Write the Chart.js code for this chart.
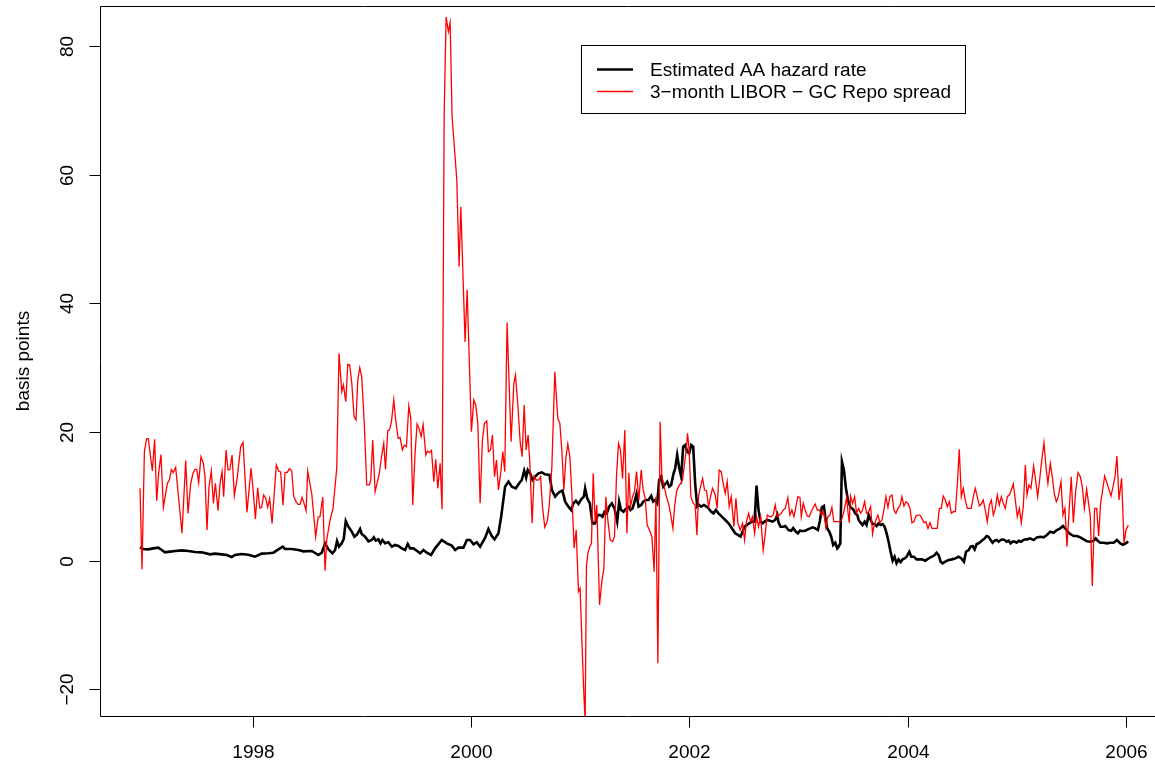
<!DOCTYPE html>
<html><head><meta charset="utf-8">
<script src="https://cdn.jsdelivr.net/npm/chart.js@4.4.1/dist/chart.umd.min.js"></script>
<style>html,body{margin:0;padding:0;background:#fff}canvas{display:block}</style>
</head><body>
<canvas id="c" width="1155" height="765"></canvas>
<script>
// ---- data (decimal years, basis points) ----
const redDates = [
1996.961,1996.979,1997.001,1997.022,1997.037,1997.074,1997.095,1997.114,1997.132,1997.153,1997.175,1997.212,1997.230,1997.248,1997.264,1997.288,1997.346,1997.380,1997.401,1997.426,1997.447,1997.465,1997.481,1997.499,1997.520,1997.542,1997.557,1997.575,1997.594,1997.615,1997.634,1997.652,1997.676,1997.695,1997.713,1997.728,1997.750,1997.768,1997.786,1997.805,1997.826,1997.854,1997.884,1997.906,1997.942,1997.979,
1998.001,1998.019,1998.040,1998.059,1998.077,1998.095,1998.114,1998.132,1998.150,1998.172,1998.211,1998.233,1998.251,1998.272,1998.291,1998.312,1998.331,1998.352,1998.371,1998.392,1998.410,1998.429,1998.447,1998.465,1998.484,1998.499,1998.536,1998.572,1998.594,1998.612,1998.637,1998.658,1998.673,1998.704,1998.731,1998.765,1998.786,1998.811,1998.826,1998.848,1998.866,1998.884,1998.903,1998.924,1998.942,1998.958,1998.976,1998.994,
1999.019,1999.040,1999.065,1999.077,1999.095,1999.117,1999.153,1999.178,1999.196,1999.212,1999.233,1999.248,1999.267,1999.288,1999.306,1999.328,1999.346,1999.367,1999.386,1999.404,1999.426,1999.444,1999.462,1999.484,1999.502,1999.520,1999.539,1999.557,1999.582,1999.597,1999.615,1999.634,1999.655,1999.673,1999.692,1999.713,1999.731,1999.750,1999.768,1999.789,1999.805,1999.823,1999.866,1999.887,1999.903,1999.942,1999.961,
2000.000,2000.022,2000.040,2000.059,2000.080,2000.101,2000.120,2000.141,2000.156,2000.175,2000.193,2000.212,2000.230,2000.248,2000.270,2000.288,2000.306,2000.327,2000.364,2000.389,2000.404,2000.426,2000.447,2000.465,2000.484,2000.502,2000.520,2000.536,2000.557,2000.575,2000.594,2000.615,2000.634,2000.652,2000.673,2000.695,2000.713,2000.738,2000.765,2000.792,2000.811,2000.829,2000.848,2000.866,2000.884,2000.903,2000.921,2000.942,2000.961,2000.982,2000.997,
2001.013,2001.031,2001.043,2001.055,2001.068,2001.086,2001.101,2001.117,2001.135,2001.150,2001.175,2001.196,2001.215,2001.233,2001.251,2001.273,2001.294,2001.312,2001.331,2001.349,2001.367,2001.386,2001.407,2001.426,2001.444,2001.459,2001.478,2001.496,2001.514,2001.536,2001.557,2001.575,2001.594,2001.612,2001.633,2001.655,2001.676,2001.692,2001.710,2001.731,2001.747,2001.768,2001.789,2001.808,2001.826,2001.848,2001.863,2001.881,2001.899,2001.918,2001.936,2001.955,2001.973,2001.982,2001.997,
2002.013,2002.034,2002.052,2002.068,2002.083,2002.101,2002.120,2002.138,2002.156,2002.175,2002.193,2002.211,2002.236,2002.254,2002.272,2002.291,2002.309,2002.328,2002.346,2002.364,2002.383,2002.407,2002.426,2002.444,2002.465,2002.487,2002.505,2002.523,2002.542,2002.560,2002.578,2002.597,2002.615,2002.633,2002.652,2002.676,2002.695,2002.713,2002.731,2002.750,2002.768,2002.786,2002.805,2002.823,2002.842,2002.860,2002.878,2002.902,2002.921,2002.939,2002.958,2002.976,2002.994,
2003.013,2003.025,2003.043,2003.061,2003.080,2003.098,2003.123,2003.153,2003.172,2003.190,2003.214,2003.230,2003.251,2003.269,2003.288,2003.306,2003.324,2003.367,2003.386,2003.404,2003.422,2003.441,2003.453,2003.465,2003.477,2003.496,2003.514,2003.532,2003.551,2003.569,2003.587,2003.606,2003.624,2003.643,2003.661,2003.679,2003.691,2003.710,2003.728,2003.746,2003.765,2003.783,2003.801,2003.820,2003.838,2003.857,2003.875,2003.893,2003.912,2003.930,2003.948,2003.967,2003.985,
2004.003,2004.022,2004.040,2004.058,2004.077,2004.095,2004.113,2004.132,2004.150,2004.168,2004.187,2004.205,2004.224,2004.254,2004.272,2004.291,2004.309,2004.327,2004.346,2004.364,2004.383,2004.401,2004.419,2004.438,2004.456,2004.474,2004.493,2004.511,2004.529,2004.548,2004.566,2004.584,2004.603,2004.621,2004.639,2004.658,2004.676,2004.694,2004.713,2004.731,2004.750,2004.768,2004.786,2004.805,2004.823,2004.841,2004.860,2004.878,2004.896,2004.915,2004.933,2004.951,2004.970,2004.988,
2005.006,2005.025,2005.043,2005.061,2005.080,2005.095,2005.113,2005.131,2005.156,2005.174,2005.193,2005.211,2005.229,2005.251,2005.269,2005.287,2005.309,2005.327,2005.345,2005.364,2005.382,2005.407,2005.425,2005.443,2005.462,2005.480,2005.501,2005.520,2005.541,2005.563,2005.584,2005.602,2005.621,2005.642,2005.660,2005.676,2005.694,2005.715,2005.734,2005.752,2005.770,2005.789,2005.807,2005.829,2005.847,2005.865,2005.884,2005.902,2005.920,2005.939,2005.963,2005.985,2006.003,2006.024
];
const redValues = [
11.25,-1.34,16.95,18.97,18.97,13.94,18.86,9.33,13.68,16.48,8.30,12.03,12.54,14.15,13.68,14.51,4.26,15.55,7.36,12.03,13.58,14.20,14.20,12.13,16.17,15.13,13.06,4.77,11.51,13.94,8.92,12.03,7.78,12.03,13.84,9.95,17.21,14.10,14.20,16.43,10.11,13.06,17.72,18.40,7.52,14.41,
10.47,6.48,11.35,8.19,8.30,10.21,9.70,8.30,9.64,5.81,14.87,13.89,13.79,8.61,13.74,13.74,14.31,13.94,9.95,9.18,8.76,8.76,9.85,8.92,7.78,13.89,10.37,3.74,6.74,6.85,9.90,-1.55,3.22,6.33,8.14,14.36,32.23,26.27,27.31,24.72,30.52,30.41,27.57,22.39,21.87,28.08,30.00,28.60,
20.83,11.77,11.77,12.54,18.76,10.73,13.32,16.43,18.24,14.20,20.21,20.31,21.61,24.98,21.87,19.02,19.17,17.21,17.98,17.72,24.04,22.13,8.66,16.95,21.25,20.57,19.28,21.14,16.43,17.05,16.79,17.15,12.29,15.76,11.25,15.13,7.99,69.0,84.5,82.2,83.6,69.0,59.2,45.7,55.0,34.0,42.1,
20.06,24.98,24.20,21.35,8.92,18.76,21.35,21.71,16.95,17.21,19.54,13.06,15.65,10.99,13.84,16.95,13.84,37.0,18.50,27.57,28.86,24.20,18.50,16.17,24.20,17.21,19.54,15.13,5.81,13.17,12.54,12.54,13.06,8.40,5.19,6.07,8.40,14.62,29.38,22.13,21.35,17.21,10.99,15.91,18.14,16.17,10.47,1.93,4.77,-4.81,-4.29,
-12.32,-20.61,-25.0,-0.92,1.15,2.18,2.70,13.58,6.07,8.66,-6.88,-3.26,-1.18,9.95,6.33,3.22,2.96,3.74,13.32,18.24,17.21,12.80,20.31,4.26,13.68,8.40,9.95,10.73,13.84,9.44,14.10,10.99,9.70,5.55,4.77,3.74,-1.70,9.95,-15.95,21.61,13.06,11.51,9.95,8.92,7.36,5.03,8.40,10.73,11.51,12.03,12.54,15.13,17.72,19.80,17.21,
9.95,8.92,8.66,4.00,9.95,11.51,12.80,10.99,10.89,8.40,9.95,11.25,10.21,8.14,14.10,13.84,12.03,10.47,12.29,8.40,9.95,5.29,9.70,5.81,4.77,5.81,3.22,6.07,7.36,6.07,6.85,4.26,6.85,5.29,6.85,1.67,4.26,7.11,6.85,6.85,7.11,8.66,6.85,7.11,7.36,7.88,8.13,9.79,7.10,7.88,6.84,8.39,9.95,
9.84,6.84,8.91,7.88,6.94,6.84,7.88,8.81,7.88,7.88,7.10,7.62,5.13,6.84,7.10,8.29,6.06,6.06,6.06,6.84,8.13,9.84,7.62,5.91,10.05,8.91,9.95,7.46,8.13,7.36,7.88,9.17,7.36,7.62,8.39,4.15,5.29,6.32,7.10,5.91,6.32,7.88,9.95,8.29,9.95,10.21,7.88,7.36,8.13,8.50,9.95,8.50,9.17,
8.91,8.13,5.91,6.06,6.94,7.10,7.10,6.58,5.91,6.06,5.03,5.91,5.03,5.03,5.03,8.13,8.13,10.05,9.43,8.39,9.17,7.36,7.62,7.62,11.76,17.30,9.95,11.24,9.43,8.13,8.13,8.13,9.95,11.24,9.95,8.50,8.81,9.43,7.88,6.06,8.65,9.43,7.10,8.13,10.21,8.65,9.95,8.91,8.13,9.95,10.21,10.98,11.92,9.43,
6.84,8.13,5.91,8.39,14.87,10.21,11.76,11.24,14.71,12.54,9.95,12.54,15.39,18.34,14.61,12.02,15.13,13.06,10.47,9.17,9.95,12.28,7.10,8.13,2.18,7.36,13.06,5.91,10.72,13.68,13.06,11.50,8.13,11.09,8.91,6.84,-3.93,8.13,8.13,3.84,8.91,10.98,13.16,12.02,11.09,10.05,11.50,13.06,16.27,9.43,12.80,2.70,4.77,5.55
];
const blackDates = [
1996.961,1996.991,1997.037,1997.083,1997.129,1997.160,1997.190,1997.236,1997.282,1997.343,1997.404,1997.465,1997.527,1997.603,1997.649,1997.710,1997.756,1997.802,1997.832,1997.894,1997.955,
1998.016,1998.077,1998.138,1998.184,1998.230,1998.270,1998.291,1998.352,1998.413,1998.459,1998.536,1998.597,1998.628,1998.658,1998.689,1998.725,1998.750,1998.768,1998.786,1998.811,1998.829,1998.848,1998.872,1998.903,1998.927,1998.952,1998.979,1998.994,
1999.025,1999.056,1999.086,1999.105,1999.123,1999.147,1999.166,1999.184,1999.208,1999.239,1999.270,1999.300,1999.331,1999.361,1999.392,1999.416,1999.438,1999.468,1999.499,1999.530,1999.560,1999.591,1999.630,1999.667,1999.728,1999.774,1999.820,1999.851,1999.881,1999.927,1999.958,1999.988,
2000.019,2000.049,2000.080,2000.126,2000.156,2000.187,2000.212,2000.248,2000.273,2000.309,2000.340,2000.371,2000.407,2000.438,2000.462,2000.484,2000.502,2000.517,2000.539,2000.560,2000.585,2000.615,2000.646,2000.676,2000.716,2000.738,2000.768,2000.792,2000.814,2000.835,2000.860,2000.890,2000.915,2000.936,2000.958,2000.982,
2001.007,2001.031,2001.043,2001.062,2001.086,2001.110,2001.135,2001.159,2001.181,2001.202,2001.221,2001.242,2001.263,2001.288,2001.312,2001.337,2001.355,2001.373,2001.395,2001.416,2001.441,2001.459,2001.478,2001.496,2001.514,2001.533,2001.557,2001.575,2001.600,2001.624,2001.649,2001.667,2001.685,2001.704,2001.722,2001.740,2001.759,2001.777,2001.796,2001.814,2001.832,2001.854,2001.869,2001.887,2001.906,2001.924,2001.942,2001.961,2001.979,2001.997,
2002.016,2002.034,2002.052,2002.071,2002.089,2002.107,2002.132,2002.156,2002.175,2002.199,2002.221,2002.242,2002.266,2002.297,2002.328,2002.358,2002.389,2002.419,2002.444,2002.468,2002.487,2002.505,2002.526,2002.548,2002.572,2002.597,2002.615,2002.633,2002.652,2002.670,2002.688,2002.713,2002.737,2002.762,2002.786,2002.805,2002.817,2002.835,2002.860,2002.878,2002.909,2002.933,2002.951,2002.970,2002.994,
2003.013,2003.037,2003.061,2003.086,2003.107,2003.129,2003.153,2003.178,2003.196,2003.214,2003.233,2003.245,2003.263,2003.282,2003.300,2003.318,2003.337,2003.355,2003.367,2003.383,2003.398,2003.416,2003.435,2003.453,2003.477,2003.502,2003.520,2003.539,2003.551,2003.569,2003.587,2003.606,2003.624,2003.643,2003.661,2003.679,2003.698,2003.716,2003.734,2003.753,2003.771,2003.789,2003.808,2003.826,2003.844,2003.863,2003.881,2003.899,2003.918,2003.936,2003.954,2003.973,2003.991,
2004.016,2004.034,2004.058,2004.083,2004.107,2004.132,2004.162,2004.193,2004.224,2004.248,2004.266,2004.285,2004.303,2004.321,2004.346,2004.376,2004.407,2004.438,2004.468,2004.493,2004.517,2004.536,2004.560,2004.578,2004.597,2004.615,2004.633,2004.652,2004.670,2004.688,2004.707,2004.725,2004.743,2004.762,2004.780,2004.798,2004.817,2004.835,2004.854,2004.872,2004.890,2004.909,2004.927,2004.945,2004.964,2004.982,
2005.000,2005.019,2005.043,2005.061,2005.080,2005.095,2005.125,2005.156,2005.186,2005.217,2005.248,2005.278,2005.309,2005.339,2005.370,2005.400,2005.425,2005.446,2005.468,2005.492,2005.523,2005.553,2005.584,2005.615,2005.645,2005.676,2005.706,2005.725,2005.743,2005.767,2005.798,2005.829,2005.859,2005.890,2005.920,2005.951,2005.975,2006.000,2006.024
];
const blackValues = [
2.08,1.82,1.77,1.92,2.03,1.67,1.30,1.41,1.51,1.61,1.51,1.36,1.30,0.99,1.10,0.99,0.89,0.58,0.89,1.04,0.94,
0.63,1.10,1.15,1.25,1.77,2.18,1.82,1.82,1.67,1.46,1.51,0.89,1.25,2.70,1.77,1.15,1.67,3.06,2.18,2.70,3.38,6.17,5.29,4.52,3.74,4.10,4.93,4.15,
3.74,3.01,3.22,3.63,3.12,3.32,2.70,3.22,2.70,2.86,2.18,2.44,2.29,1.92,1.67,2.60,1.92,1.92,1.56,1.15,1.67,1.25,0.89,1.92,3.22,2.70,2.34,1.67,2.03,2.03,3.22,3.22,
2.55,2.86,2.18,3.58,4.93,3.84,3.32,4.26,6.85,11.51,12.29,11.51,11.25,12.03,12.54,13.99,12.91,14.10,13.58,12.54,13.06,13.58,13.74,13.42,13.32,10.99,9.95,10.47,10.73,10.89,9.18,8.40,7.88,8.92,9.33,8.81,
9.54,9.95,11.25,9.70,8.92,5.81,5.81,7.11,7.11,6.85,7.62,7.36,8.40,8.92,8.14,6.07,9.18,7.88,7.62,8.04,8.40,7.88,8.14,9.18,10.37,8.40,8.66,9.18,9.44,9.44,10.06,9.18,9.44,8.92,12.54,13.06,11.51,11.92,12.29,11.51,11.77,13.58,14.36,16.43,14.36,13.06,17.72,17.98,16.95,16.69,
17.98,17.72,12.03,8.40,8.66,8.40,8.66,8.40,8.14,7.62,7.36,7.88,7.36,6.85,6.33,5.81,5.03,4.26,4.00,3.74,4.52,5.29,5.55,5.81,6.07,6.07,11.66,7.88,6.07,5.81,6.07,6.33,6.22,6.07,6.33,7.11,5.91,5.29,5.29,5.39,4.77,4.66,5.08,4.61,4.25,
4.66,4.61,4.66,4.87,5.03,5.18,5.03,4.77,6.22,8.29,8.50,6.84,5.03,4.51,3.73,2.44,2.80,1.92,2.18,2.70,15.39,14.09,11.24,9.43,8.29,7.98,7.36,7.10,6.32,5.91,5.55,6.06,5.55,7.10,6.32,5.70,5.70,5.39,5.80,5.55,5.70,5.29,4.25,2.96,1.40,0.00,0.62,-0.41,0.21,-0.21,0.21,0.36,0.62,
1.40,0.62,0.62,0.21,0.21,0.21,0.00,0.36,0.62,0.88,1.25,0.88,-0.15,-0.41,-0.15,0.10,0.21,0.36,0.62,0.36,-0.15,1.40,1.66,2.18,2.28,1.76,2.59,2.70,2.96,3.21,3.47,3.84,3.73,3.21,2.80,3.11,3.21,2.96,3.21,3.32,3.21,2.96,3.11,2.70,2.96,2.96,
2.80,3.11,2.96,3.21,3.32,3.32,3.47,3.21,3.63,3.73,3.63,3.99,4.51,4.35,4.77,5.03,5.39,5.03,4.51,4.15,3.84,3.84,3.63,3.32,3.01,2.96,3.11,3.47,3.11,2.80,2.80,2.70,2.80,2.80,3.21,2.70,2.49,2.70,2.96
];
const xTicks = [1998, 2000, 2002, 2004, 2006];
const yTicks = [-20, 0, 20, 40, 60, 80];
const seriesLabels = ['Estimated AA hazard rate', '3\u2212month LIBOR \u2212 GC Repo spread'];
const yTitle = 'basis points';

// ---- chart ----
const FONT = '19px "Liberation Sans", Arial, Helvetica, sans-serif';
const toPts = (xs, ys) => xs.map((x, i) => ({x: x, y: ys[i]}));

const deco = {
  id: 'deco',
  afterDraw(chart) {
    const {ctx, chartArea: a, scales: {x, y}} = chart;
    ctx.save();
    ctx.strokeStyle = '#000'; ctx.fillStyle = '#000'; ctx.lineWidth = 1;
    const L = Math.round(a.left) + 0.5, T = Math.round(a.top) + 0.5, B = Math.round(a.bottom) + 0.5;
    // box: left, top, bottom (right edge lies beyond the canvas)
    ctx.beginPath();
    ctx.moveTo(a.right + 2, T); ctx.lineTo(L, T); ctx.lineTo(L, B); ctx.lineTo(a.right + 2, B);
    ctx.stroke();
    ctx.font = FONT;
    // x ticks + labels
    ctx.textAlign = 'center'; ctx.textBaseline = 'alphabetic';
    xTicks.forEach(v => {
      const px = Math.round(x.getPixelForValue(v)) + 0.5;
      ctx.beginPath(); ctx.moveTo(px, B); ctx.lineTo(px, B + 11); ctx.stroke();
      ctx.fillText(String(v), px, 758);
    });
    // y ticks + rotated labels
    yTicks.forEach(v => {
      const py = Math.round(y.getPixelForValue(v)) + 0.5;
      ctx.beginPath(); ctx.moveTo(L - 11, py); ctx.lineTo(L, py); ctx.stroke();
      ctx.save(); ctx.translate(73, py); ctx.rotate(-Math.PI / 2);
      ctx.fillText(String(v).replace('-', '\u2212'), 0, 0);
      ctx.restore();
    });
    // y title
    ctx.save(); ctx.translate(29, (a.top + a.bottom) / 2); ctx.rotate(-Math.PI / 2);
    ctx.fillText(yTitle, 0, 0);
    ctx.restore();
    // legend
    ctx.fillStyle = '#fff';
    ctx.fillRect(581, 45, 385, 69);
    ctx.strokeRect(581.5, 45.5, 384, 68);
    const rows = [69.5, 91.5];
    const ds = chart.data.datasets;
    [1, 0].forEach((di, r) => {
      const d = ds[di];
      ctx.strokeStyle = d.borderColor; ctx.lineWidth = d.borderWidth;
      ctx.beginPath(); ctx.moveTo(597, rows[r]); ctx.lineTo(633, rows[r]); ctx.stroke();
      ctx.fillStyle = '#000'; ctx.textAlign = 'left';
      ctx.fillText(d.label, 650, rows[r] + 6.8);
    });
    ctx.restore();
  }
};

new Chart(document.getElementById('c'), {
  type: 'line',
  data: {
    datasets: [
      {label: seriesLabels[1], data: toPts(redDates, redValues), borderColor: '#ff0000', borderWidth: 1.3,
       pointRadius: 0, tension: 0, fill: false, order: 0},
      {label: seriesLabels[0], data: toPts(blackDates, blackValues), borderColor: '#000000', borderWidth: 2.6,
       pointRadius: 0, tension: 0, fill: false, order: 1}
    ]
  },
  options: {
    responsive: false, animation: false, devicePixelRatio: 1,
    layout: {padding: {top: 6, left: 0, right: 0, bottom: 0}},
    plugins: {legend: {display: false}, tooltip: {enabled: false}},
    scales: {
      x: {type: 'linear', min: 1996.594, max: 2006.269,
          grid: {display: false}, border: {display: false}, ticks: {display: false},
          afterFit(s) { s.height = 49; }},
      y: {type: 'linear', min: -24.13, max: 86.2,
          grid: {display: false}, border: {display: false}, ticks: {display: false},
          afterFit(s) { s.width = 100; }}
    }
  },
  plugins: [deco]
});
</script>
</body></html>
